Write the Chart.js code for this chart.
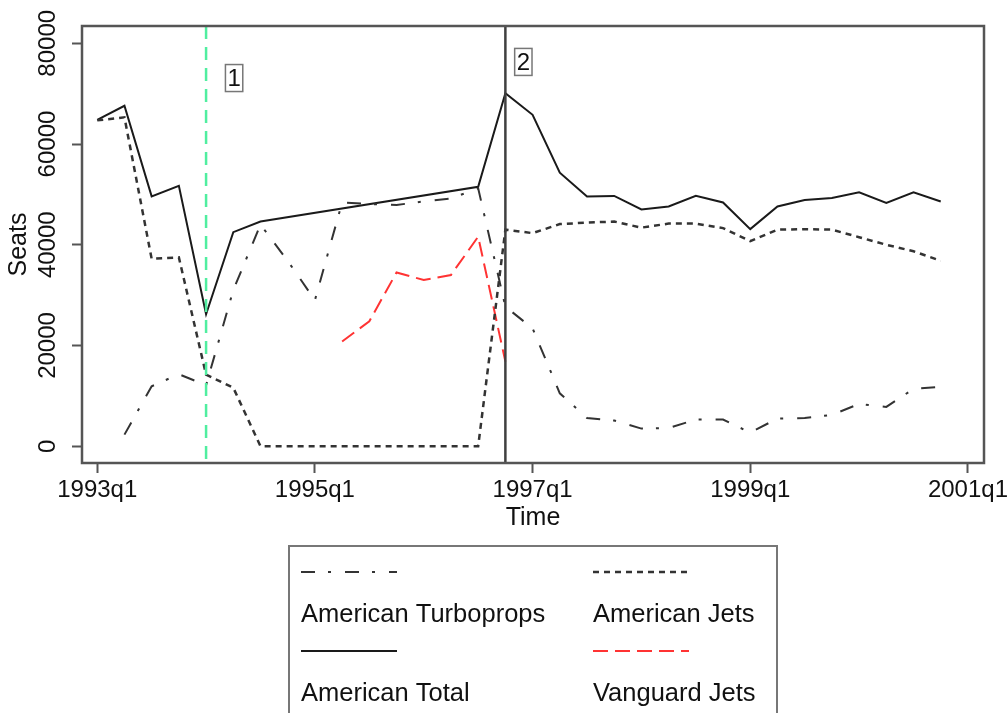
<!DOCTYPE html>
<html>
<head>
<meta charset="utf-8">
<script src="https://cdn.jsdelivr.net/npm/chart.js@4.4.0/dist/chart.umd.min.js"></script>
<style>
  html, body { margin: 0; padding: 0; background: #fff; }
  #wrap { width: 1008px; height: 713px; }
</style>
</head>
<body>
<div id="wrap"><canvas id="seats" width="1008" height="713"></canvas></div>
<script>
let QUARTERS = [
	'1993q1', '1993q2', '1993q3', '1993q4', '1994q1', '1994q2', '1994q3', '1994q4',
	'1995q1', '1995q2', '1995q3', '1995q4', '1996q1', '1996q2', '1996q3', '1996q4',
	'1997q1', '1997q2', '1997q3', '1997q4', '1998q1', '1998q2', '1998q3', '1998q4',
	'1999q1', '1999q2', '1999q3', '1999q4', '2000q1', '2000q2', '2000q3', '2000q4',
];

let TURBOPROPS = [null, 2300, 11900, 14300, 12100, 31000, 44000, 36800,
	29000, 48400, 48100, 47900, 48600, 49200, 51200, 27700,
	23400, 10500, 5600, 5100, 3500, 3600, 5300, 5300,
	2700, 5500, 5600, 6200, 8400, 7800, 11400, 11800];

let JETS = [64700, 65300, 37200, 37500, 14200, 11600, 0, 0,
	0, 0, 0, 0, 0, 0, 0, 43000,
	42300, 44100, 44400, 44600, 43400, 44200, 44200, 43300,
	40700, 43000, 43100, 43000, 41500, 40000, 38700, 36800];

let TOTAL = [64800, 67600, 49600, 51700, 26200, 42500, 44600, null,
	null, null, null, null, null, null, 51500, 70100,
	65800, 54300, 49600, 49700, 47000, 47600, 49700, 48400,
	43100, 47600, 48900, 49300, 50400, 48300, 50400, 48600];

let VANGUARD = [null, null, null, null, null, null, null, null,
	null, 20800, 24800, 34500, 33000, 34000, 41600, 16800,
	null, null, null, null, null, null, null, null,
	null, null, null, null, null, null, null, null];

let X_TICKS = [0, 8, 16, 24, 32];
let X_TICK_LABELS = ['1993q1', '1995q1', '1997q1', '1999q1', '2001q1'];
let Y_TICKS = [0, 20000, 40000, 60000, 80000];

// event lines: 1994q1 and 1996q4
let EVENT_QUARTERS = [QUARTERS.indexOf('1994q1'), QUARTERS.indexOf('1996q4')];
let EVENT_TAGS = ['1', '2'];

let FONT = "'Liberation Sans', Arial, Helvetica, sans-serif";
Chart.defaults.font.family = FONT;
Chart.defaults.color = '#111';

function toPoints(values) {
	return values.map((v, i) => ({ x: i, y: v }));
}

// xlines + numbered boxes + plot frame
let eventLines = {
	id: 'eventLines',
	afterDatasetsDraw(chart) {
		let ctx = chart.ctx;
		let xs = chart.scales.x;
		let ys = chart.scales.y;
		let area = chart.chartArea;
		let styles = [
			{ color: '#50eea0', dash: [13, 8], width: 2.5, tagQ: 5.03, tagY: 73100 },
			{ color: '#404040', dash: [], width: 2.5, tagQ: 15.66, tagY: 76300 },
		];
		ctx.save();
		EVENT_QUARTERS.forEach((q, i) => {
			let st = styles[i];
			let px = xs.getPixelForValue(q);
			ctx.strokeStyle = st.color;
			ctx.lineWidth = st.width;
			ctx.setLineDash(st.dash);
			ctx.beginPath();
			ctx.moveTo(px, area.top);
			ctx.lineTo(px, area.bottom);
			ctx.stroke();

			ctx.setLineDash([]);
			ctx.font = '24px ' + FONT;
			let tx = xs.getPixelForValue(st.tagQ);
			let ty = ys.getPixelForValue(st.tagY);
			let w = ctx.measureText(EVENT_TAGS[i]).width + 4;
			ctx.strokeStyle = '#777';
			ctx.lineWidth = 1.5;
			ctx.strokeRect(tx - w / 2, ty - 13.5, w, 27);
			ctx.fillStyle = '#111';
			ctx.textAlign = 'center';
			ctx.textBaseline = 'middle';
			ctx.fillText(EVENT_TAGS[i], tx, ty + 1);
		});
		ctx.strokeStyle = '#555';
		ctx.lineWidth = 2.5;
		ctx.strokeRect(area.left, area.top, area.right - area.left, area.bottom - area.top);
		ctx.restore();
	},
};

// stata style legend: sample line above its label, two columns
let legendBox = {
	id: 'legendBox',
	afterDraw(chart) {
		let ctx = chart.ctx;
		ctx.save();
		ctx.strokeStyle = '#777';
		ctx.lineWidth = 2;
		ctx.strokeRect(289, 546, 488, 220);
		chart.data.datasets.forEach((ds, i) => {
			let x = i % 2 === 0 ? 301 : 593;
			let y = 572 + Math.floor(i / 2) * 79;
			ctx.setLineDash(ds.borderDash || []);
			ctx.strokeStyle = ds.borderColor;
			ctx.lineWidth = ds.borderWidth;
			ctx.beginPath();
			ctx.moveTo(x, y);
			ctx.lineTo(x + 96, y);
			ctx.stroke();
			ctx.setLineDash([]);
			ctx.fillStyle = '#111';
			ctx.font = '25.5px ' + FONT;
			ctx.textAlign = 'left';
			ctx.textBaseline = 'middle';
			ctx.fillText(ds.label, x, y + 43);
		});
		ctx.restore();
	},
};

let lineDefaults = { pointRadius: 0, tension: 0, fill: false, spanGaps: true };

new Chart(document.getElementById('seats').getContext('2d'), {
	type: 'line',
	data: {
		datasets: [
			{ ...lineDefaults, label: 'American Turboprops', data: toPoints(TURBOPROPS),
				borderColor: '#333', borderWidth: 2, borderDash: [14, 13, 3, 14] },
			{ ...lineDefaults, label: 'American Jets', data: toPoints(JETS),
				borderColor: '#333', borderWidth: 2.5, borderDash: [6, 5] },
			{ ...lineDefaults, label: 'American Total', data: toPoints(TOTAL),
				borderColor: '#1a1a1a', borderWidth: 2 },
			{ ...lineDefaults, label: 'Vanguard Jets', data: toPoints(VANGUARD),
				borderColor: '#ff3333', borderWidth: 2, borderDash: [15, 7] },
		],
	},
	options: {
		responsive: false,
		animation: false,
		layout: { padding: { left: 0, top: 26, right: 24, bottom: 177 } },
		plugins: { legend: { display: false }, tooltip: { enabled: false } },
		scales: {
			x: {
				type: 'linear',
				min: -0.56,
				max: 32.59,
				afterBuildTicks: (s) => { s.ticks = X_TICKS.map((v) => ({ value: v })); },
				afterFit: (s) => { s.height = 73; s.paddingLeft = 0; s.paddingRight = 0; },
				ticks: {
					autoSkip: false, maxRotation: 0, padding: 3, color: '#111',
					font: { size: 24 },
					callback: (v) => X_TICK_LABELS[X_TICKS.indexOf(v)],
				},
				grid: { drawOnChartArea: false, tickLength: 10, tickColor: '#555', tickWidth: 2 },
				border: { display: false },
				title: { display: true, text: 'Time', color: '#111', font: { size: 25 }, padding: { top: 0, bottom: 3 } },
			},
			y: {
				min: -3333,
				max: 83433,
				afterBuildTicks: (s) => { s.ticks = Y_TICKS.map((v) => ({ value: v })); },
				afterFit: (s) => { s.width = 82; s.paddingTop = 0; s.paddingBottom = 0; },
				ticks: {
					minRotation: 90, maxRotation: 90, crossAlign: 'center', padding: -9.7, color: '#111',
					font: { size: 24 },
					callback: (v) => String(v),
				},
				grid: { drawOnChartArea: false, tickLength: 10, tickColor: '#555', tickWidth: 2 },
				border: { display: false },
				title: { display: true, text: 'Seats', color: '#111', font: { size: 25 }, padding: { top: 4.5, bottom: 0 } },
			},
		},
	},
	plugins: [eventLines, legendBox],
});
</script>
</body>
</html>
